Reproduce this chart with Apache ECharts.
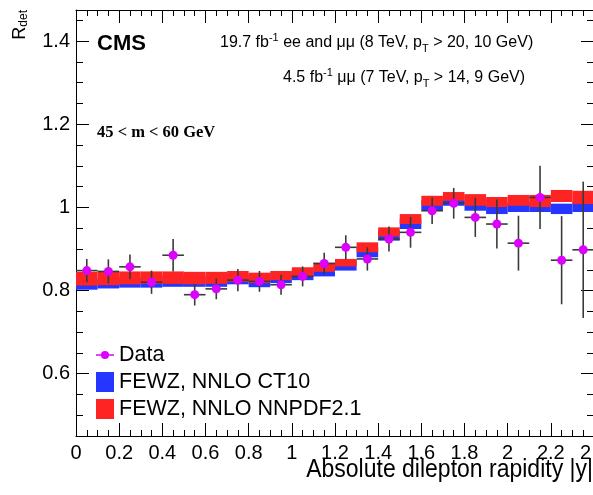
<!DOCTYPE html>
<html><head><meta charset="utf-8">
<script src="https://cdn.jsdelivr.net/npm/echarts@6/dist/echarts.min.js"></script>
<style>html,body{margin:0;padding:0;background:#fff;overflow:hidden}#c{width:593px;height:495px}</style>
</head><body><div id="c"></div>
<script>
// ---- data ----
const binEdges = [0,0.1,0.2,0.3,0.4,0.5,0.6,0.7,0.8,0.9,1.0,1.1,1.2,1.3,1.4,1.5,1.6,1.7,1.8,1.9,2.0,2.1,2.2,2.3,2.4];
const dataValues = [0.848,0.846,0.857,0.820,0.885,0.790,0.804,0.825,0.822,0.814,0.834,0.865,0.904,0.876,0.924,0.940,0.992,1.010,0.976,0.960,0.914,1.024,0.873,0.898];
const dataErrors = [0.028,0.029,0.030,0.028,0.039,0.026,0.025,0.027,0.025,0.024,0.024,0.026,0.029,0.028,0.030,0.037,0.032,0.037,0.047,0.059,0.066,0.076,0.106,0.164];
const ct10Low  = [0.802,0.805,0.807,0.807,0.809,0.809,0.809,0.815,0.808,0.818,0.825,0.834,0.848,0.880,0.920,0.948,0.992,1.004,0.992,0.984,0.989,0.989,0.984,0.989];
const ct10High = [0.827,0.830,0.832,0.832,0.834,0.834,0.834,0.840,0.833,0.843,0.850,0.859,0.873,0.905,0.945,0.973,1.017,1.029,1.017,1.009,1.014,1.014,1.009,1.014];
const nnpdfLow  = [0.812,0.813,0.815,0.816,0.816,0.815,0.816,0.821,0.818,0.825,0.833,0.845,0.858,0.892,0.930,0.960,1.004,1.016,1.004,1.001,1.004,1.001,1.013,1.008];
const nnpdfHigh = [0.845,0.845,0.846,0.846,0.846,0.845,0.845,0.847,0.843,0.847,0.856,0.867,0.876,0.916,0.952,0.984,1.028,1.037,1.032,1.025,1.030,1.030,1.042,1.040];
const xTickLabels = [0,0.2,0.4,0.6,0.8,1,1.2,1.4,1.6,1.8,2,2.2,2.4];
const yTickLabels = [0.6,0.8,1,1.2,1.4];
const yMinorTicks = [0.45,0.5,0.55,0.6,0.65,0.7,0.75,0.8,0.85,0.9,0.95,1,1.05,1.1,1.15,1.2,1.25,1.3,1.35,1.4,1.45];

const FONT = '"Liberation Sans", Arial, Helvetica, sans-serif';
const bandData = (lo, hi) => lo.map((v, i) => [binEdges[i], binEdges[i+1], v, hi[i]]);
const pointData = dataValues.map((v, i) => [(binEdges[i] + binEdges[i+1]) / 2, v]);
const errData = dataValues.map((v, i) => [(binEdges[i] + binEdges[i+1]) / 2, v, dataErrors[i], binEdges[i], binEdges[i+1]]);

function bandRender(params, api) {
  const p0 = api.coord([api.value(0), api.value(3)]);
  const p1 = api.coord([api.value(1), api.value(2)]);
  return {type: 'rect', shape: {x: p0[0], y: p0[1], width: p1[0] - p0[0], height: p1[1] - p0[1]},
          style: {fill: api.visual('color')}};
}
function errRender(params, api) {
  const xc = api.value(0), y = api.value(1), e = api.value(2);
  const top = api.coord([xc, y + e]), bot = api.coord([xc, y - e]);
  const l = api.coord([api.value(3), y]), r = api.coord([api.value(4), y]);
  const st = {stroke: '#3a3a3a', lineWidth: 1.6};
  return {type: 'group', children: [
    {type: 'line', shape: {x1: top[0], y1: top[1], x2: bot[0], y2: bot[1]}, style: st},
    {type: 'line', shape: {x1: l[0], y1: l[1], x2: r[0], y2: r[1]}, style: st}
  ]};
}

const axisLineStyle = {color: '#000', width: 1};
const chart = echarts.init(document.getElementById('c'));
chart.setOption({
  animation: false,
  backgroundColor: '#fff',
  grid: {left: 76, top: 10, width: 518, height: 426, containLabel: false, outerBoundsMode: 'none'},
  xAxis: [
    {type: 'value', min: 0, max: 2.4, interval: 0.2, position: 'bottom',
     axisLine: {lineStyle: axisLineStyle}, splitLine: {show: false},
     axisTick: {inside: true, length: 13, lineStyle: axisLineStyle},
     minorTick: {show: true, splitNumber: 4, length: 6, lineStyle: axisLineStyle},
     axisLabel: {color: '#000', fontSize: 20, fontFamily: FONT, margin: 7, customValues: xTickLabels}},
    {type: 'value', min: 0, max: 2.4, interval: 0.2, position: 'top',
     axisLine: {lineStyle: axisLineStyle}, splitLine: {show: false},
     axisTick: {inside: true, length: 13, lineStyle: axisLineStyle},
     minorTick: {show: true, splitNumber: 4, length: 6, lineStyle: axisLineStyle},
     axisLabel: {show: false}}
  ],
  yAxis: [
    {type: 'value', min: 0.45, max: 1.475, position: 'left',
     axisLine: {show: true, lineStyle: axisLineStyle}, splitLine: {show: false},
     axisTick: {show: true, inside: true, length: 13, lineStyle: axisLineStyle, customValues: yTickLabels},
     axisLabel: {color: '#000', fontSize: 20, fontFamily: FONT, margin: 6, customValues: yTickLabels}},
    {type: 'value', min: 0.45, max: 1.475, position: 'left',
     axisLine: {show: false}, splitLine: {show: false},
     axisTick: {show: true, inside: true, length: 7, lineStyle: axisLineStyle, customValues: yMinorTicks},
     axisLabel: {show: false}},
    {type: 'value', min: 0.45, max: 1.475, position: 'right',
     axisLine: {show: true, lineStyle: axisLineStyle}, splitLine: {show: false},
     axisTick: {show: true, inside: true, length: 13, lineStyle: axisLineStyle, customValues: yTickLabels},
     axisLabel: {show: false}},
    {type: 'value', min: 0.45, max: 1.475, position: 'right',
     axisLine: {show: false}, splitLine: {show: false},
     axisTick: {show: true, inside: true, length: 7, lineStyle: axisLineStyle, customValues: yMinorTicks},
     axisLabel: {show: false}}
  ],
  legend: {
    orient: 'vertical', left: 96, top: 344, padding: 0, itemGap: 5,
    itemWidth: 18, itemHeight: 20,
    textStyle: {fontSize: 21.5, fontFamily: FONT, color: '#000', lineHeight: 20},
    data: [
      {name: 'Data', icon: 'path://M0,9.25H20V10.75H0Z M14.5,10A4.5,4.5,0,1,1,5.5,10A4.5,4.5,0,1,1,14.5,10Z'},
      {name: 'FEWZ, NNLO CT10', icon: 'rect'},
      {name: 'FEWZ, NNLO NNPDF2.1', icon: 'rect'}
    ]
  },
  series: [
    {name: 'FEWZ, NNLO CT10', type: 'custom', renderItem: bandRender, data: bandData(ct10Low, ct10High),
     itemStyle: {color: '#2436ff'}, encode: {x: [0, 1], y: [2, 3]}, z: 2},
    {name: 'FEWZ, NNLO NNPDF2.1', type: 'custom', renderItem: bandRender, data: bandData(nnpdfLow, nnpdfHigh),
     itemStyle: {color: '#ff2424'}, encode: {x: [0, 1], y: [2, 3]}, z: 3},
    {name: 'Data', type: 'custom', renderItem: errRender, data: errData,
     itemStyle: {color: '#dd00ff'}, encode: {x: [0, 3, 4], y: [1]}, z: 4},
    {name: 'Data', type: 'scatter', data: pointData, symbol: 'circle', symbolSize: 9,
     itemStyle: {color: '#dd00ff', opacity: 1}, z: 5}
  ],
  graphic: [
    {type: 'text', left: 97, top: 33, style: {text: 'CMS', font: 'bold 22px ' + FONT, fill: '#000'}},
    {type: 'text', x: 220, y: 43, style: {
      text: '{n|19.7 fb}{s|-1}{n| ee and μμ (8 TeV, p}{b|T}{n| > 20, 10 GeV)}',
      verticalAlign: 'middle', align: 'left',
      rich: {n: {fontSize: 16, fontFamily: FONT, fill: '#000', lineHeight: 22, verticalAlign: 'middle'},
             s: {fontSize: 11, fontFamily: FONT, fill: '#000', lineHeight: 22, verticalAlign: 'top'},
             b: {fontSize: 11, fontFamily: FONT, fill: '#000', lineHeight: 22, verticalAlign: 'bottom'}}}},
    {type: 'text', x: 283, y: 78, style: {
      text: '{n|4.5 fb}{s|-1}{n| μμ (7 TeV, p}{b|T}{n| > 14, 9 GeV)}',
      verticalAlign: 'middle', align: 'left',
      rich: {n: {fontSize: 16, fontFamily: FONT, fill: '#000', lineHeight: 22, verticalAlign: 'middle'},
             s: {fontSize: 11, fontFamily: FONT, fill: '#000', lineHeight: 22, verticalAlign: 'top'},
             b: {fontSize: 11, fontFamily: FONT, fill: '#000', lineHeight: 22, verticalAlign: 'bottom'}}}},
    {type: 'text', x: 97, y: 133, style: {text: '45 < m < 60 GeV', font: 'bold 16.5px "Liberation Serif", "Times New Roman", serif',
      fill: '#000', verticalAlign: 'middle', align: 'left'}},
    {type: 'text', x: 593, y: 470, scaleY: 1.15, style: {text: 'Absolute dilepton rapidity |y|', font: '23px ' + FONT,
      fill: '#000', verticalAlign: 'middle', align: 'right'}},
    {type: 'text', x: 20, y: 10, rotation: Math.PI / 2, style: {
      text: '{r|R}{d|det}', align: 'right', verticalAlign: 'middle',
      rich: {r: {fontSize: 18, fontFamily: FONT, fill: '#000', lineHeight: 20, verticalAlign: 'middle'},
             d: {fontSize: 12, fontFamily: FONT, fill: '#000', lineHeight: 20, verticalAlign: 'bottom'}}}}
  ]
});
</script>
</body></html>
